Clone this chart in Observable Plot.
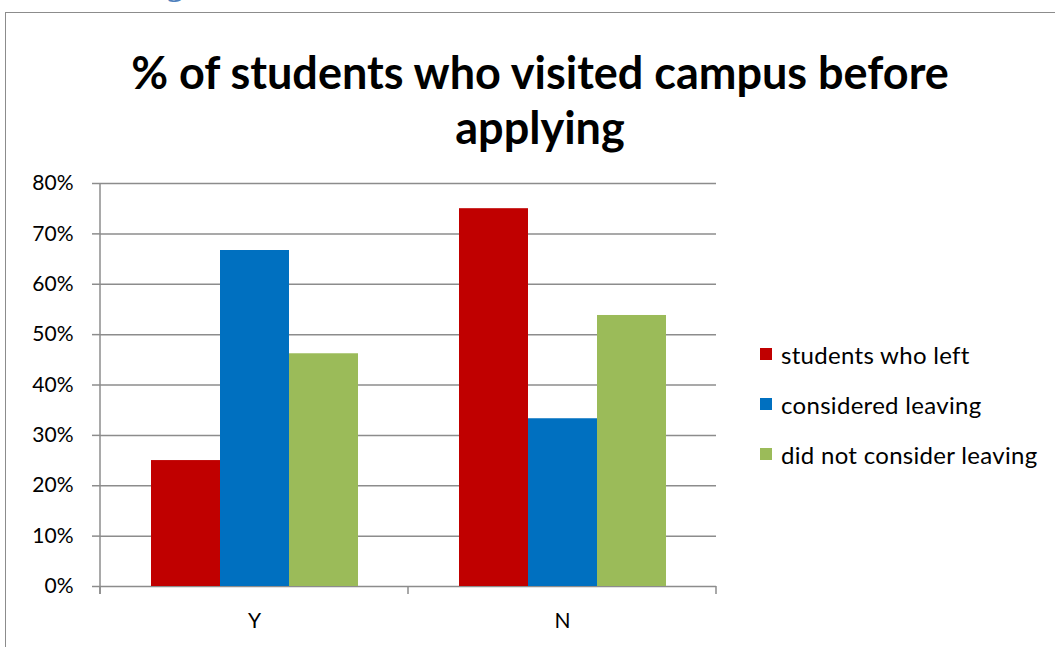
<!DOCTYPE html>
<html><head><meta charset="utf-8">
<script src="https://cdn.jsdelivr.net/npm/d3@7"></script>
<script src="https://cdn.jsdelivr.net/npm/@observablehq/plot@0.6"></script>
<style>
html,body{margin:0;padding:0;background:#fff;overflow:hidden;}
#wrap{position:relative;width:1055px;height:647px;overflow:hidden;font-family:Lato,"Open Sans",sans-serif;color:#000;}
#frame{position:absolute;left:5px;top:12px;width:1200px;height:800px;border:1.5px solid #8c8c8c;box-sizing:border-box;}
#cut{position:absolute;left:166px;top:-30px;font-family:"DejaVu Serif",serif;font-weight:bold;font-size:28px;color:#4f81bd;}
#chart{position:absolute;left:0;top:0;}
#title{position:absolute;left:25px;width:1030px;top:45px;text-align:center;font-weight:bold;font-size:45px;line-height:55px;}
#legend{position:absolute;left:760px;top:329px;font-size:24px;letter-spacing:0.3px;}
.row{height:50px;display:flex;align-items:center;}
.sw{width:12px;height:12px;margin-right:9px;}
</style></head><body>
<div id="wrap">
  <div id="cut">g</div>
  <div id="frame"></div>
  <div id="chart"></div>
  <div id="title">% of students who visited campus before<br>applying</div>
  <div id="legend"></div>
</div>
<script>
const categories = ["Y", "N"];
const series = ["students who left", "considered leaving", "did not consider leaving"];
const colors = ["#C00000", "#0070C0", "#9BBB59"];
const valuesY = [0.25, 0.667, 0.462];
const valuesN = [0.75, 0.333, 0.538];
const yTicks = [0, 0.1, 0.2, 0.3, 0.4, 0.5, 0.6, 0.7, 0.8];

const byCategory = {Y: valuesY, N: valuesN};
const data = categories.flatMap(c => series.map((s, j) => ({category: c, series: s, value: byCategory[c][j]})));

const grid = "#8c8c8c";
const chart = Plot.plot({
  width: 1055, height: 647,
  marginLeft: 99, marginRight: 339, marginTop: 183, marginBottom: 61,
  style: {fontFamily: "Lato, 'Open Sans', sans-serif", fontSize: "21px", color: "#000", background: "transparent"},
  fx: {domain: categories, padding: 0, label: null, axis: null},
  x: {domain: series, paddingInner: 0, paddingOuter: 0.73, axis: null},
  y: {domain: [0, 0.8], label: null, axis: null},
  color: {domain: series, range: colors},
  marks: [
    Plot.ruleY(yTicks, {stroke: grid, strokeWidth: 1.5}),
    Plot.barY(data, {fx: "category", x: "series", y: "value", fill: "series"}),
    Plot.axisY({ticks: yTicks, tickFormat: d3.format(".0%"), tickSize: 8, tickPadding: 19, stroke: grid, strokeWidth: 1.5, fill: "#000", fontSize: 21, label: null}),
    Plot.axisFx({anchor: "bottom", tickSize: 0, tickPadding: 27, fill: "#000", fontSize: 21, label: null})
  ]
});
document.getElementById("chart").appendChild(chart);

// axis line and category boundary ticks from the plot's own scales
const fx = chart.scale("fx"), y = chart.scale("y");
const bounds = categories.map(c => fx.apply(c)).concat([fx.apply(categories[categories.length - 1]) + fx.bandwidth]);
const g = d3.select(chart).append("g").attr("stroke", grid).attr("stroke-width", 1.5);
g.append("line").attr("x1", bounds[0]).attr("x2", bounds[0]).attr("y1", y.apply(0.8)).attr("y2", y.apply(0) + 8);
bounds.forEach(b => g.append("line").attr("x1", b).attr("x2", b).attr("y1", y.apply(0)).attr("y2", y.apply(0) + 8));

const legend = d3.select("#legend");
series.forEach((s, i) => {
  const row = legend.append("div").attr("class", "row");
  row.append("div").attr("class", "sw").style("background", colors[i]);
  row.append("span").text(s);
});
</script>
</body></html>
